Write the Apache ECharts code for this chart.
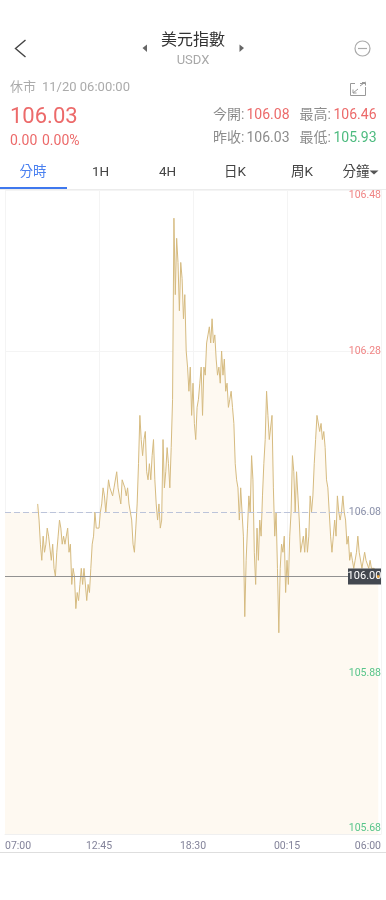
<!DOCTYPE html>
<html><head><meta charset="utf-8">
<style>html,body{margin:0;padding:0;background:#fff}#c{width:386px;height:900px}</style>
<script src="https://cdn.jsdelivr.net/npm/echarts@6/dist/echarts.min.js"></script>
</head><body><div id="c"></div>
<script>
const sessionTicks = ['07:00','12:45','18:30','00:15','06:00'];
const yTicks = [106.48,106.28,106.08,105.88,105.68];
const preOpen = [106.08,106.08,106.08,106.08,106.08,106.08,106.08,106.08,106.08,106.08,106.08,106.08,106.08,106.08,106.08,106.08,106.08,106.08,106.08,106.08,106.08,106.08,106.08,106.08];
const prices = [
106.09,106.07,106.04,106.02,106.05,106.03,106.04,106.06,106.05,106.05,106.02,106.04,106.01,106.00,106.03,106.05,106.07,106.06,106.04,106.05,106.04,106.05,106.06,106.03,106.04,105.99,106.01,106.00,
105.96,105.98,105.97,105.99,106.01,105.99,106.01,106.01,105.97,105.99,105.98,106.01,106.04,106.05,106.08,106.06,106.06,106.06,106.08,106.09,106.11,106.10,106.08,106.10,106.12,106.11,106.11,106.10,106.11,106.11,106.13,106.11,106.11,106.09,106.12,106.12,106.11,106.10,106.11,106.09,106.08,106.07,106.04,106.03,106.06,106.09,106.14,106.20,106.17,106.15,106.17,106.18,106.13,106.12,106.14,106.12,106.15,106.17,106.12,106.09,106.07,106.09,106.06,106.07,106.17,106.11,106.13,106.16,106.14,106.11,106.16,
106.22,106.445,106.35,106.42,106.39,106.33,106.39,106.37,106.32,106.35,106.28,106.26,106.23,106.26,106.20,106.24,106.19,106.17,106.21,106.22,106.24,106.26,106.20,106.26,106.25,106.29,106.30,106.31,106.29,106.32,106.29,106.30,106.27,106.25,106.26,106.24,106.28,106.25,106.27,106.23,106.24,106.21,106.22,106.23,106.21,106.19,
106.14,106.12,106.11,106.07,106.11,106.08,106.05,105.95,106.02,106.06,106.10,106.08,106.15,106.12,106.03,105.99,106.06,106.02,106.07,106.05,106.10,106.14,106.17,106.23,106.20,106.17,106.17,106.20,106.11,106.05,106.08,106.01,105.93,106.01,106.04,106.03,106.05,105.98,106.02,105.99,106.05,106.08,
106.15,106.13,106.08,106.13,106.10,106.07,106.03,106.03,106.05,106.03,106.06,106.03,106.05,106.10,106.08,106.10,106.14,106.17,106.20,106.20,106.18,106.19,106.17,106.18,106.16,106.12,106.11,106.08,106.05,106.03,106.05,106.07,106.05,106.10,106.08,106.07,106.08,106.10,106.08,106.07,106.04,106.05,106.02,106.03,106.02,106.01,106.02,106.03,106.05,106.03,106.03,106.01,106.01,106.03,106.02,106.02,106.01,106.02,106.01,106.01,106.01,106.00,106.00,106.00];
const lastPrice = 106.00, refPrice = 106.08;

const categories = [];
for (let i = 0; i <= 276; i++) {
  const m = (7*60 + i*5) % 1440;
  categories.push(String(Math.floor(m/60)).padStart(2,'0') + ':' + String(m%60).padStart(2,'0'));
}
const fillData = preOpen.concat(prices);
const lineData = preOpen.map(() => null).concat(prices);
const lastIndex = fillData.length - 1;

const F = 'Roboto, "Noto Sans CJK TC", sans-serif';
const RED='#ec6a6a', GREEN='#4dbb7f', GREY='#8c8c8c', LIGHT='#ababab';
const T=(text,x,y,size,fill,align)=>({type:'text',x,y,silent:true,style:{text,fontSize:size,fontFamily:F,fill,textAlign:align||'left',textVerticalAlign:'middle'}});
const PL=(points,stroke,lineWidth)=>({type:'polyline',silent:true,shape:{points},style:{stroke,fill:null,lineWidth:lineWidth||1}});
const TRI=(points,fill)=>({type:'polygon',silent:true,shape:{points},style:{fill}});

const graphics = [
  PL([[25.5,40],[15.5,48.5],[25.5,57]],'#444',1.4),
  T('美元指數',193,41,16,'#333','center'),
  T('USDX',193,60.5,13,'#a8a8a8','center'),
  TRI([[142.5,48],[147,44.5],[147,52]],'#666'),
  TRI([[244,48],[239.5,44.5],[239.5,52]],'#666'),
  {type:'circle',silent:true,shape:{cx:362.5,cy:48.5,r:7.5},style:{stroke:'#aaa',fill:null,lineWidth:1.2}},
  PL([[358,48.5],[367,48.5]],'#aaa',1.2),
  T('休市',10,88,13,LIGHT),
  T('11/20 06:00:00',42,88,13,LIGHT),
  PL([[355,83.5],[350.5,83.5],[350.5,95.5],[365.5,95.5],[365.5,87]],'#999',1),
  PL([[360,83.5],[366,83.5]],'#999',1),
  PL([[360,86],[365.5,82]],'#999',1),
  PL([[353,93],[358,89]],'#999',1),
  PL([[353,89.5],[353,93],[356.5,93]],'#999',1),
  PL([[362,82.5],[365.5,82.5],[365.5,85.5]],'#999',1),
  T('106.03',10,117,22,RED),
  T('0.00',10,141,14,RED),
  T('0.00%',42,141,14,RED),
  T('今開:',213,115,14,GREY), T('106.08',246.5,115,14,RED),
  T('最高:',299.5,115,14,GREY), T('106.46',333.5,115,14,RED),
  T('昨收:',213,138,14,GREY), T('106.03',246.5,138,14,GREY),
  T('最低:',299.5,138,14,GREY), T('105.93',333.5,138,14,GREEN),
  T('分時',33,173,13.5,'#4a80f0','center'),
  T('1H',100.5,173,13.5,'#444','center'),
  T('4H',167.5,173,13.5,'#444','center'),
  T('日K',235,173,13.5,'#444','center'),
  T('周K',302,173,13.5,'#444','center'),
  T('分鐘',356,173,13.5,'#444','center'),
  TRI([[369.5,170.5],[378.5,170.5],[374,174.5]],'#555'),
  {type:'rect',silent:true,shape:{x:0,y:187,width:67,height:2},style:{fill:'#3f78ee'}},
  PL([[0,189.5],[386,189.5]],'#ececec',1),
  PL([[0,852.5],[386,852.5]],'#dedede',1)
];

const chart = echarts.init(document.getElementById('c'), null, {renderer:'canvas'});
chart.setOption({
  animation:false,
  backgroundColor:'#fff',
  grid:{left:5,right:5,top:190,bottom:66,containLabel:false},
  graphic:graphics,
  xAxis:{type:'category',data:categories,boundaryGap:false,
    axisLine:{show:true,lineStyle:{color:'#f0f0f0'}},axisTick:{show:false},
    splitLine:{show:true,interval:68,lineStyle:{color:'#f4f4f4',width:1}},
    axisLabel:{show:true,interval:68,margin:7,fontSize:10.5,fontFamily:F,color:'#83839a',
      alignMinLabel:'left',alignMaxLabel:'right',
      formatter:(v,i)=>sessionTicks[Math.round(i/69)]}},
  yAxis:[
    {type:'value',position:'right',min:105.68,max:106.48,interval:0.2,
     axisLine:{show:false},axisTick:{show:false},axisLabel:{show:false},
     splitLine:{show:true,lineStyle:{color:'#f4f4f4',width:1}}},
    {type:'value',position:'right',min:105.68,max:106.48,interval:0.2,z:5,
     axisLine:{show:false},axisTick:{show:false},splitLine:{show:false},
     axisLabel:{inside:true,margin:0,fontSize:10.5,fontFamily:F,
       verticalAlignMinLabel:'bottom',verticalAlignMaxLabel:'top',
       formatter:v=>v.toFixed(2),
       color:v=>{const n=Number(v);return n>refPrice+0.001?'#f08585':(n<refPrice-0.001?'#58c58a':'#8a90aa');}}}
  ],
  series:[
    {type:'line',data:fillData,symbol:'none',silent:true,z:1,lineStyle:{width:0,opacity:0},areaStyle:{color:'#fef9f1',opacity:1,origin:'start'}},
    {type:'line',data:lineData,symbol:'none',silent:true,z:2,lineStyle:{color:'#d6bb80',width:1},
      markLine:{silent:true,symbol:'none',animation:false,label:{show:false},
        data:[
          [{coord:[categories[0],refPrice],lineStyle:{color:'#bcc4da',type:[6,3],width:1.2}},{coord:[categories[252],refPrice]}],
          {yAxis:lastPrice,lineStyle:{color:'#929292',type:'solid',width:1.2}}
        ]},
      markPoint:{silent:true,animation:false,data:[
        {coord:[categories[276],lastPrice],symbol:'rect',symbolSize:[33,16],symbolOffset:[-16.5,0],
         itemStyle:{color:'#434850'},
         label:{show:true,position:'inside',formatter:lastPrice.toFixed(2),color:'#fff',fontSize:11,fontFamily:F}},
        {coord:[categories[lastIndex],lastPrice],symbol:'circle',symbolSize:3,itemStyle:{color:'#e8a33a'},label:{show:false}}
      ]}}
  ]
});
</script></body></html>
